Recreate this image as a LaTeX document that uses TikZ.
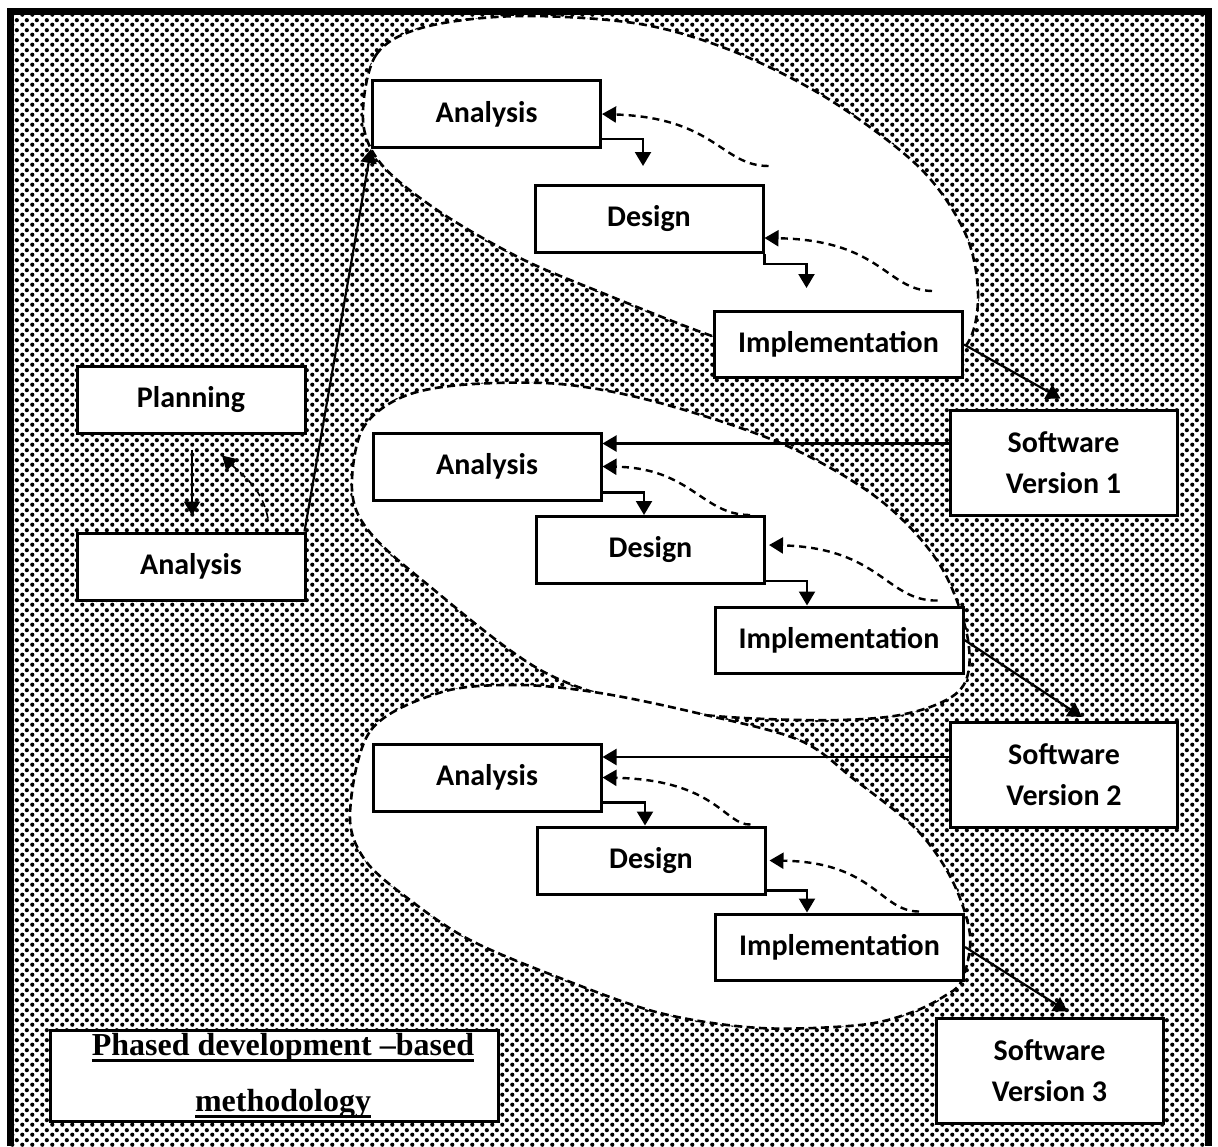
\documentclass[tikz,border=0pt]{standalone}
\usepackage{fontspec}
\setmainfont{Carlito}
\newfontfamily\titlefont{Liberation Serif}
\usetikzlibrary{arrows.meta,calc,patterns.meta}

% halftone dot screen used for the background
\tikzdeclarepattern{
  name=halftone,
  type=uncolored,
  bounding box={(0pt,0pt) and (5pt,5pt)},
  tile size={(5pt,5pt)},
  code={
    \pgfpathcircle{\pgfqpoint{1.25pt}{1.25pt}}{1.15pt}
    \pgfpathcircle{\pgfqpoint{3.75pt}{3.75pt}}{1.15pt}
    \pgfusepath{fill}
  }
}

% heavy underline that sits just below the baseline
\newcommand\ulword[1]{\leavevmode\setbox0\hbox{#1}\rlap{\rule[-3.3pt]{\wd0}{1.5pt}}\box0}

\begin{document}
\begin{tikzpicture}[x=0.5pt,y=-0.5pt,
  stage/.style={draw, line width=1.5pt, fill=white, minimum width=114pt,
    minimum height=33.5pt, inner sep=0pt,
    font=\bfseries\fontsize{15}{20.5}\selectfont},
  implbox/.style={stage, minimum width=124pt, minimum height=33pt},
  swbox/.style={stage, minimum width=113.5pt, minimum height=52.5pt, align=center},
  blob/.style={draw, fill=white, line width=1.3pt, dash pattern=on 4pt off 2.2pt},
  arr/.style={line width=1.1pt, -{Triangle[length=7pt,width=8pt]}},
  fb/.style={line width=1.2pt, dash pattern=on 3.5pt off 2.5pt,
    -{Triangle[length=7pt,width=8pt]}},
]
\useasboundingbox (0,0) rectangle (1218,1146);
\fill[white] (0,0) rectangle (1218,1146);
\fill[pattern=halftone, pattern color=black] (10,11) rectangle (1208,1146);

% the three iteration regions
\draw[blob] plot[smooth cycle, tension=0.55] coordinates {
  (363,120) (376,55) (425,27) (520,16) (640,24) (735,52) (830,100) (920,168)
  (966,235) (978,300) (962,350) (900,372) (800,362) (712,336) (600,292)
  (520,258) (440,212) (382,165)};
\draw[blob] plot[smooth cycle, tension=0.55] coordinates {
  (352,490) (362,430) (400,398) (460,385) (560,384) (660,403) (785,445)
  (880,500) (940,565) (968,640) (960,690) (900,715) (800,720) (667,710)
  (544,672) (422,580) (368,530)};
\draw[blob] plot[smooth cycle, tension=0.55] coordinates {
  (350,813) (371,730) (442,692) (520,685) (600,693) (697,713) (799,740)
  (855,780) (917,830) (952,880) (970,935) (962,980) (943,997) (910,1013)
  (860,1025) (760,1028) (660,1013) (560,978) (470,940) (410,900) (365,860)};

% stages
\node[stage] (plan) at (191,399.5) {Planning};
\node[stage] (anaL) at (191,566.5) {Analysis};

\node[stage]   (a1) at (486.5,114) {Analysis};
\node[stage]   (d1) at (649,219)   {Design};
\node[implbox] (i1) at (838.5,344.5) {Implementation};

\node[stage]   (a2) at (487,466.5) {Analysis};
\node[stage]   (d2) at (650.5,550) {Design};
\node[implbox] (i2) at (839,640)   {Implementation};

\node[stage]   (a3) at (487,777.5) {Analysis};
\node[stage]   (d3) at (651,860.5) {Design};
\node[implbox] (i3) at (839.5,947) {Implementation};

\node[swbox] (sv1) at (1063.5,462.5) {Software\\Version 1};
\node[swbox] (sv2) at (1064,775)    {Software\\Version 2};
\node[swbox] (sv3) at (1049.5,1070.5) {Software\\Version 3};

\node[draw, line width=1.5pt, fill=white, minimum width=224pt, minimum height=45.5pt,
  inner sep=0pt, align=center,
  font=\titlefont\bfseries\fontsize{16}{28}\selectfont] (title) at (274,1075.5)
  {\hspace*{9pt}\ulword{Phased development –based}\\
   \hspace*{9pt}\ulword{methodology}};

% planning and analysis
\draw[arr] ($(plan.south)+(1,15)$) -- ($(anaL.north)+(1,-16)$);
\draw[fb, line width=0.8pt] ($(anaL.north)+(77,-13)$)
  .. controls +(-6,-30) and +(23,22) .. ($(plan.south)+(31,21)$);
\draw[arr] ($(anaL.north east)+(-2,0)$) -- (a1.south west);

% first iteration
\draw[arr] ($(a1.south east)+(0,-10)$) -| ($(d1.north)+(-6,-18)$);
\draw[arr] (d1.south east) -- ++(0,10) -| ($(i1.north)+(-32,-22)$);
\draw[fb] ($(d1.north east)+(4,-18)$) .. controls +(-47,0) and +(114,4) .. (a1.east);
\draw[fb] ($(i1.north east)+(-32,-19)$) .. controls +(-46,-1) and +(117,2) .. ($(d1.east)+(0,19)$);
\draw[arr] (i1.east) -- ($(sv1.north)+(-3,-10)$);

% second iteration
\coordinate (s1) at ($(sv1.north west)+(0,35)$);
\draw[arr] (s1) -- (s1 -| a2.east);
\draw[arr] ($(a2.south east)+(0,-9)$) -| ($(d2.north)+(-6.5,0)$);
\draw[arr] ($(d2.south east)+(0,-4)$) -| ($(i2.north)+(-32,0)$);
\draw[fb] ($(d2.north east)+(-16,0)$) .. controls +(-48,0) and +(89,1.5) .. (a2.east);
\draw[fb] ($(i2.north east)+(-27,-5)$) .. controls +(-51,1) and +(112,3) .. ($(d2.east)+(3,-5)$);
\draw[arr] (i2.east) -- ($(sv2.north)+(18,-4)$);

% third iteration
\coordinate (s2) at ($(sv2.north west)+(0,36)$);
\draw[arr] (s2) -- (s2 -| a3.east);
\draw[arr] ($(a3.south east)+(0,-10)$) -| ($(d3.north)+(-6,0)$);
\draw[arr] ($(d3.south east)+(0,-5)$) -| ($(i3.north)+(-32.5,0)$);
\draw[fb] ($(d3.north east)+(-16,-1)$) .. controls +(-26,1) and +(114,2.5) .. (a3.east);
\draw[fb] ($(i3.north east)+(-46,-1)$) .. controls +(-39,0) and +(105,1.5) .. ($(d3.east)+(3,0)$);
\draw[arr] (i3.east) -- ($(sv3.north)+(18,-5)$);

% outer frame, open at the bottom
\draw[line width=3.5pt] (10,1146) -- (10,11) -- (1208,11) -- (1208,1146);
\end{tikzpicture}
\end{document}
